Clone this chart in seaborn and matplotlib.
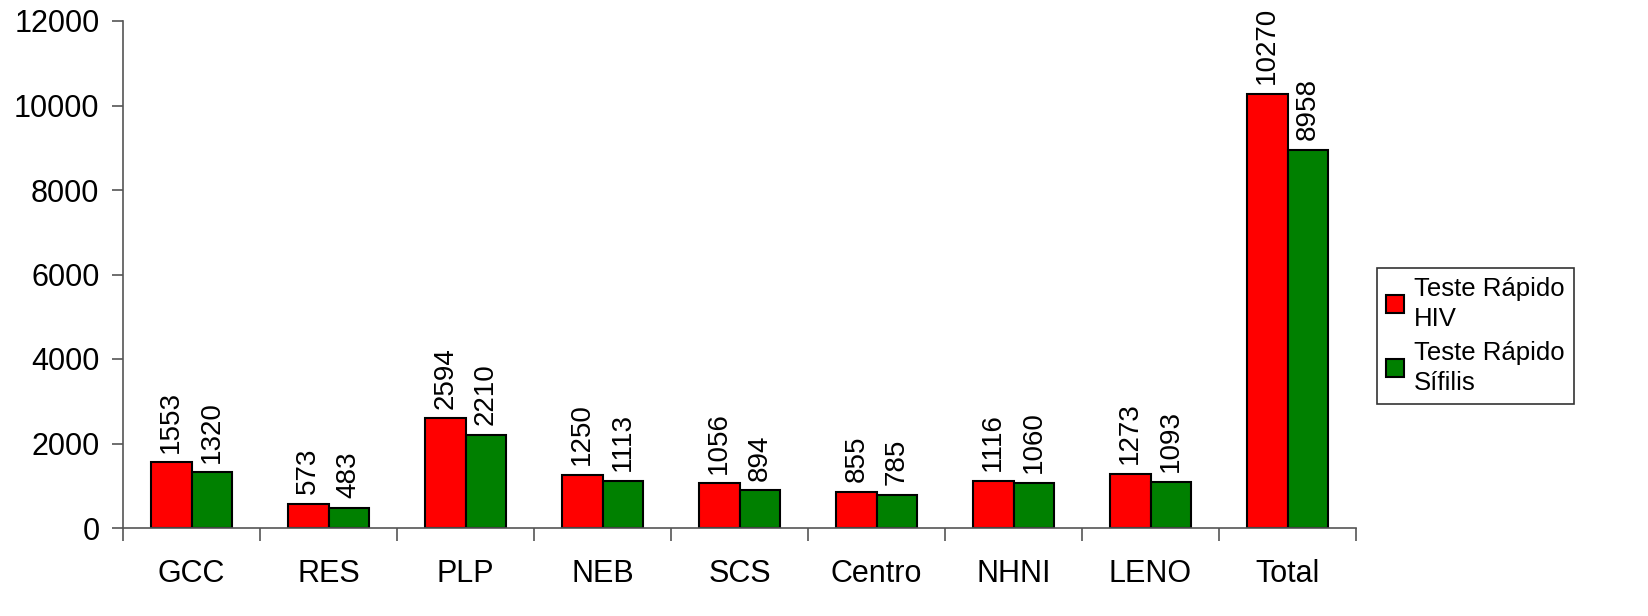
import matplotlib
matplotlib.use("Agg")
import matplotlib.pyplot as plt
import seaborn as sns
import pandas as pd
import numpy as np

categories = ["GCC", "RES", "PLP", "NEB", "SCS", "Centro", "NHNI", "LENO", "Total"]
hiv = [1553, 573, 2594, 1250, 1056, 855, 1116, 1273, 10270]
sifilis = [1320, 483, 2210, 1113, 894, 785, 1060, 1093, 8958]
series_names = ["Teste Rápido\nHIV", "Teste Rápido\nSífilis"]
y_ticks = [0, 2000, 4000, 6000, 8000, 10000, 12000]

df = pd.DataFrame({
    "cat": categories * 2,
    "val": hiv + sifilis,
    "serie": [series_names[0]] * len(categories) + [series_names[1]] * len(categories),
})

sns.set_theme(style="white")
plt.rcParams["font.family"] = ["Liberation Sans", "DejaVu Sans"]
plt.rcParams["text.color"] = "black"
plt.rcParams["xtick.color"] = "#555555"
plt.rcParams["ytick.color"] = "#555555"
plt.rcParams["xtick.labelcolor"] = "black"
plt.rcParams["ytick.labelcolor"] = "black"
plt.rcParams["xtick.bottom"] = True
plt.rcParams["ytick.left"] = True

fig = plt.figure(figsize=(16.48, 6.16), dpi=100)
ax = fig.add_axes([123/1648, 88/616, (1356-123)/1648, (528-21)/616])

sns.barplot(data=df, x="cat", y="val", hue="serie", order=categories,
            hue_order=series_names, palette=["#ff0000", "#008000"],
            edgecolor="black", linewidth=1.5, width=0.59, ax=ax, saturation=1)

for cont in ax.containers:
    ax.bar_label(cont, labels=[f"{int(v)}" for v in cont.datavalues],
                 rotation=90, padding=7, fontsize=20, color="black")

ax.set_xlim(-0.5, len(categories) - 0.5)
ax.set_ylim(0, 12000)
ax.set_yticks(y_ticks)
ax.set_yticklabels([str(t) for t in y_ticks], fontsize=22)
ax.set_xlabel("")
ax.set_ylabel("")
ax.tick_params(axis="x", which="major", length=0, pad=22, labelsize=22)
ax.set_xticks(np.arange(-0.5, len(categories)), minor=True)
ax.tick_params(axis="x", which="minor", bottom=True, length=9, width=1.2, direction="out")
ax.tick_params(axis="y", which="major", left=True, length=8, width=1.2, direction="out", pad=9)
for s in ["top", "right"]:
    ax.spines[s].set_visible(False)
for s in ["left", "bottom"]:
    ax.spines[s].set_color("#555555")
    ax.spines[s].set_linewidth(1.2)

ax.get_legend().remove()
handles, labels = ax.get_legend_handles_labels()
leg = fig.legend(handles, labels, loc="upper left", bbox_to_anchor=(1377/1648, 1-268/616),
                 bbox_transform=fig.transFigure, frameon=True, fancybox=False,
                 fontsize=18.5, handlelength=0.7, handleheight=0.7, handletextpad=0.4,
                 borderpad=0.35, labelspacing=0.4, borderaxespad=0)
leg.get_frame().set_edgecolor("black")
leg.get_frame().set_linewidth(1.2)
for t in leg.get_texts():
    t.set_linespacing(1.3)
    t.set_color("black")
for h in leg.legend_handles:
    h.set_edgecolor("black")
    h.set_linewidth(1.5)

fig.savefig("out.png", dpi=100)
